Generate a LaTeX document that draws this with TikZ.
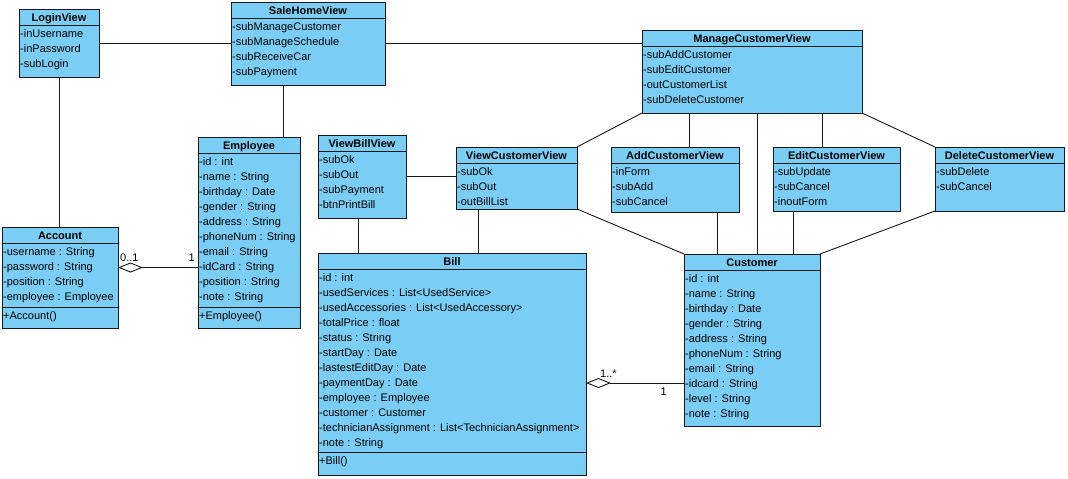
\documentclass[tikz,border=0pt]{standalone}
\usepackage{fontspec}
\setmainfont{Liberation Sans}
\usepackage{xcolor}
\usepackage{tikz}
\usetikzlibrary{arrows.meta, positioning, calc}

\definecolor{umlblue}{RGB}{122,206,245}
\definecolor{umledge}{RGB}{25,25,25}

% class box: name, north west corner, width, height, title, attributes
\newcommand{\umlclass}[6]{%
  \node[umlbox, minimum width=#3pt, minimum height=#4pt] (#1) at (#2) {};
  \node[umltitle] (#1-t) at ([yshift=-12pt]#1.north) {#5};
  \draw[umlsep] ([yshift=-16pt]#1.north west) -- ([yshift=-16pt]#1.north east);
  \node[umlattr] (#1-a) at ([xshift=1pt,yshift=-18.5pt]#1.north west) {\rule{0pt}{10pt}#6};
}
% operations: name, separator above bottom, baseline above bottom, operations
\newcommand{\umlops}[4]{%
  \draw[umlsep] ([yshift=#2pt]#1.south west) -- ([yshift=#2pt]#1.south east);
  \node[umlattr, anchor=base west] (#1-o) at ([xshift=1pt,yshift=#3pt]#1.south west) {#4};
}

\begin{document}
\begin{tikzpicture}[
    x=1pt, y=-1pt,
    font=\fontsize{11}{15}\selectfont,
    umlbox/.style={draw=umledge, fill=umlblue, line width=1pt, anchor=north west,
      outer sep=0pt, inner sep=0pt},
    umltitle/.style={font=\fontsize{11}{15}\selectfont\bfseries, anchor=base, inner sep=0pt},
    umlattr/.style={anchor=north west, align=left, inner sep=0pt},
    umlsep/.style={draw=umledge, line width=1pt},
    assoc/.style={draw=umledge, line width=0.9pt},
    agg/.style={assoc, {Diamond[open, length=25pt, width=10pt]}-},
    mult/.style={inner sep=0pt}
  ]
  \useasboundingbox (0,0) rectangle (1068,479);

  % views
  \umlclass{login}{19,9}{80}{68}{LoginView}{-inUsername\\-inPassword\\-subLogin}
  \umlclass{salehome}{231,2}{154}{83}{SaleHomeView}{-subManageCustomer\\-subManageSchedule\\-subReceiveCar\\-subPayment}
  \umlclass{mcv}{642,30}{220}{83}{ManageCustomerView}{-subAddCustomer\\-subEditCustomer\\-outCustomerList\\-subDeleteCustomer}
  \umlclass{vbv}{318,135}{88}{83}{ViewBillView}{-subOk\\-subOut\\-subPayment\\-btnPrintBill}
  \umlclass{vcv}{456,147}{121}{62}{ViewCustomerView}{-subOk\\-subOut\\-outBillList}
  \umlclass{acv}{611,147}{128}{65}{AddCustomerView}{-inForm\\-subAdd\\-subCancel}
  \umlclass{ecv}{773,147}{127}{64}{EditCustomerView}{-subUpdate\\-subCancel\\-inoutForm}
  \umlclass{dcv}{935,147}{129}{64}{DeleteCustomerView}{-subDelete\\-subCancel}

  % entities
  \umlclass{account}{2,227}{116}{101}{Account}{-username : String\\-password : String\\-position : String\\-employee : Employee}
  \umlops{account}{21}{8.5}{+Account()}
  \umlclass{emp}{198,137}{102}{191}{Employee}{-id : int\\-name : String\\-birthday : Date\\-gender : String\\-address : String\\-phoneNum : String\\-email : String\\-idCard : String\\-position : String\\-note : String}
  \umlops{emp}{21}{8.5}{+Employee()}
  \umlclass{bill}{318,253}{268}{222}{Bill}{-id : int\\-usedServices : List<UsedService>\\-usedAccessories : List<UsedAccessory>\\-totalPrice : float\\-status : String\\-startDay : Date\\-lastestEditDay : Date\\-paymentDay : Date\\-employee : Employee\\-customer : Customer\\-technicianAssignment : List<TechnicianAssignment>\\-note : String}
  \umlops{bill}{23}{10.5}{+Bill()}
  \umlclass{cust}{684,254}{136}{172}{Customer}{-id : int\\-name : String\\-birthday : Date\\-gender : String\\-address : String\\-phoneNum : String\\-email : String\\-idcard : String\\-level : String\\-note : String}

  % associations
  \draw[assoc] (login.east) -- (login.east -| salehome.west);
  \draw[assoc] (salehome.east) -- (salehome.east -| mcv.west);
  \draw[assoc] (login.south) -- (login.south |- account.north);
  \draw[assoc] ([xshift=-25pt]salehome.south) -- ([xshift=-25pt]salehome.south |- emp.north);
  \draw[assoc] (vbv.east) -- (vbv.east -| vcv.west);
  \draw[assoc] ([xshift=-4pt]vbv.south) -- ([xshift=-4pt]vbv.south |- bill.north);
  \draw[assoc] ([xshift=-38.5pt]vcv.south) -- ([xshift=-38.5pt]vcv.south |- bill.north);
  \draw[assoc] (mcv.south west) -- (vcv.north east);
  \draw[assoc] ([xshift=-63pt]mcv.south) -- ([xshift=-63pt]mcv.south |- acv.north);
  \draw[assoc] ([xshift=5pt]mcv.south) -- ([xshift=5pt]mcv.south |- cust.north);
  \draw[assoc] ([xshift=70.5pt]mcv.south) -- ([xshift=70.5pt]mcv.south |- ecv.north);
  \draw[assoc] (mcv.south east) -- (dcv.north west);
  \draw[assoc] (vcv.south east) -- (cust.north west);
  \draw[assoc] ([xshift=42.5pt]acv.south) -- ([xshift=42.5pt]acv.south |- cust.north);
  \draw[assoc] ([xshift=-43pt]ecv.south) -- ([xshift=-43pt]ecv.south |- cust.north);
  \draw[assoc] (dcv.south west) -- (cust.north east);

  % aggregations
  \draw[agg] ([yshift=10pt]account.east) -- ([yshift=10pt]account.east -| emp.west);
  \node[mult, anchor=base west] (m1) at ([xshift=2pt,yshift=16.5pt]account.east) {0..1};
  \node[mult, anchor=base east] (m2) at ([xshift=-3pt,yshift=16.5pt]emp.west |- account.east) {1};
  \draw[agg] ([yshift=-19pt]bill.east) -- ([yshift=-19pt]bill.east -| cust.west);
  \node[mult, anchor=base west] (m3) at ([xshift=14pt,yshift=-13pt]bill.east) {1..*};
  \node[mult, anchor=base east] (m4) at ([xshift=-17pt,yshift=-31pt]cust.west |- bill.east) {1};
\end{tikzpicture}
\end{document}
